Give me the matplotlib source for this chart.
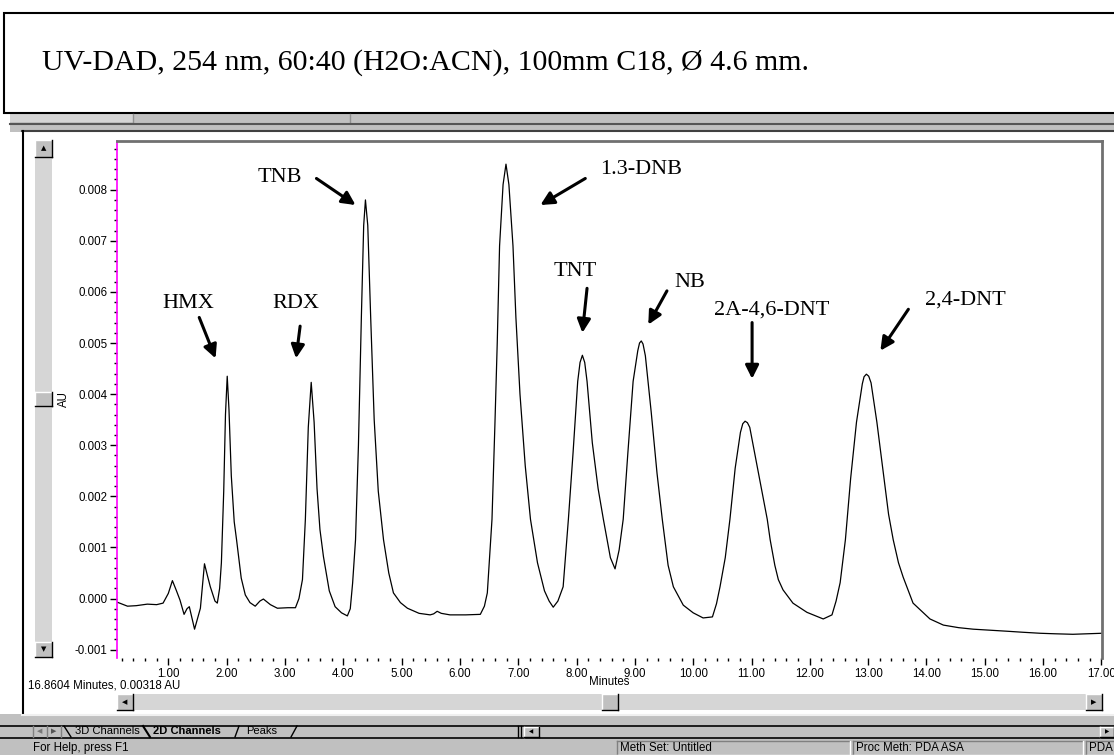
import numpy as np
import matplotlib
matplotlib.use("Agg")
from matplotlib import pyplot as plt
from matplotlib.patches import Rectangle
from matplotlib.lines import Line2D
from matplotlib.ticker import MultipleLocator, FormatStrFormatter

plt.close("all")

# ---------------- data (minutes, mAU) ----------------
time_min = [0.12, 0.30, 0.45, 0.64, 0.80, 0.91, 1.00, 1.07, 1.14, 1.20, 1.27, 1.32, 1.36, 1.45,
            1.55, 1.62, 1.67, 1.72, 1.80, 1.84, 1.88, 1.91, 1.95, 1.98, 2.01, 2.04, 2.08, 2.13,
            2.17, 2.25, 2.32, 2.40, 2.49, 2.57, 2.63, 2.75, 2.87, 3.05, 3.18, 3.24, 3.30, 3.35,
            3.40, 3.45, 3.50, 3.55, 3.60, 3.66, 3.76, 3.86, 3.97, 4.07, 4.12, 4.16, 4.21, 4.26,
            4.31, 4.35, 4.38, 4.42, 4.47, 4.53, 4.60, 4.69, 4.78, 4.86, 4.98, 5.10, 5.30, 5.49,
            5.55, 5.61, 5.68, 5.83, 6.10, 6.35, 6.42, 6.47, 6.55, 6.60, 6.64, 6.68, 6.74, 6.79,
            6.84, 6.91, 6.96, 7.03, 7.12, 7.21, 7.33, 7.45, 7.53, 7.60, 7.68, 7.77, 7.86, 7.94,
            8.02, 8.06, 8.10, 8.14, 8.18, 8.27, 8.37, 8.46, 8.58, 8.66, 8.73, 8.80, 8.88, 8.97,
            9.05, 9.08, 9.11, 9.14, 9.18, 9.28, 9.38, 9.47, 9.57, 9.66, 9.83, 10.00, 10.17, 10.33,
            10.40, 10.46, 10.55, 10.63, 10.72, 10.81, 10.85, 10.89, 10.93, 10.97, 11.07, 11.17,
            11.27, 11.32, 11.40, 11.46, 11.54, 11.71, 11.95, 12.23, 12.38, 12.45, 12.52, 12.61,
            12.70, 12.80, 12.90, 12.93, 12.97, 13.01, 13.05, 13.15, 13.25, 13.35, 13.43, 13.52,
            13.60, 13.77, 14.06, 14.29, 14.55, 14.80, 15.10, 15.38, 15.65, 15.95, 16.20, 16.51,
            16.75, 17.01]
signal_mau = [-0.07, -0.15, -0.14, -0.11, -0.12, -0.09, 0.10, 0.35, 0.15, -0.03, -0.31, -0.20, -0.16, -0.60,
              -0.19, 0.68, 0.45, 0.23, -0.05, -0.09, 0.20, 0.70, 2.10, 3.60, 4.35, 3.70, 2.40, 1.50,
              1.15, 0.40, 0.07, -0.08, -0.15, -0.05, -0.01, -0.12, -0.19, -0.18, -0.18, 0.00, 0.37, 1.55,
              3.35, 4.23, 3.45, 2.15, 1.35, 0.82, 0.15, -0.16, -0.28, -0.34, -0.20, 0.30, 1.15, 3.00,
              5.50, 7.30, 7.80, 7.30, 5.50, 3.50, 2.10, 1.15, 0.50, 0.11, -0.08, -0.19, -0.29, -0.32,
              -0.30, -0.25, -0.29, -0.32, -0.32, -0.31, -0.15, 0.11, 1.55, 3.40, 5.00, 6.90, 8.10, 8.50,
              8.10, 6.90, 5.50, 4.00, 2.60, 1.55, 0.70, 0.15, -0.05, -0.17, -0.05, 0.23, 1.55, 2.85,
              4.25, 4.62, 4.76, 4.62, 4.25, 3.05, 2.15, 1.55, 0.80, 0.58, 0.95, 1.55, 2.85, 4.25,
              4.85, 5.00, 5.04, 4.98, 4.75, 3.65, 2.45, 1.55, 0.65, 0.23, -0.13, -0.28, -0.38, -0.36,
              -0.10, 0.23, 0.80, 1.55, 2.55, 3.25, 3.42, 3.47, 3.44, 3.35, 2.75, 2.15,
              1.55, 1.15, 0.65, 0.37, 0.17, -0.09, -0.27, -0.40, -0.32, -0.05, 0.31, 1.15,
              2.35, 3.45, 4.20, 4.34, 4.39, 4.35, 4.22, 3.45, 2.55, 1.65, 1.15, 0.70,
              0.42, -0.09, -0.40, -0.52, -0.57, -0.60, -0.62, -0.64, -0.66, -0.68, -0.69, -0.70,
              -0.69, -0.68]

# peak labels: name, text position (min, mAU), arrow tail, arrow head
peak_names = ["HMX", "RDX", "TNB", "1.3-DNB", "TNT", "NB", "2A-4,6-DNT", "2,4-DNT"]
label_pos = [(1.34, 5.78), (3.18, 5.78), (2.92, 8.23), (9.10, 8.39),
             (7.98, 6.40), (9.95, 6.18), (11.35, 5.65), (14.66, 5.84)]
arrow_tail = [(1.53, 5.50), (3.26, 5.33), (3.54, 8.22), (8.15, 8.22),
              (8.18, 6.07), (9.55, 6.02), (11.01, 5.40), (13.69, 5.66)]
arrow_head = [(1.81, 4.70), (3.19, 4.70), (4.21, 7.70), (7.38, 7.70),
              (8.10, 5.20), (9.23, 5.36), (11.01, 4.30), (13.21, 4.85)]

title = "UV-DAD, 254 nm, 60:40 (H2O:ACN), 100mm C18, \u00d8 4.6 mm."

# ---------------- figure in screen pixels ----------------
W, H = 1114, 755
fig = plt.figure(figsize=(W / 100, H / 100), dpi=100)
fig.patch.set_facecolor("white")

UI = ["Liberation Sans", "DejaVu Sans"]
SERIF = ["Liberation Serif", "DejaVu Serif"]


def box(x0, y0, x1, y1, z=1, **kw):
    fig.add_artist(Rectangle((x0 / W, 1 - y1 / H), (x1 - x0) / W, (y1 - y0) / H,
                             transform=fig.transFigure, zorder=z, **kw))


def line(x0, y0, x1, y1, z=2, **kw):
    fig.add_artist(Line2D([x0 / W, x1 / W], [1 - y0 / H, 1 - y1 / H],
                          transform=fig.transFigure, zorder=z, **kw))


def txt(x, y, s, **kw):
    kw.setdefault("family", UI)
    kw.setdefault("fontsize", 8.3)
    kw.setdefault("va", "center")
    fig.text(x / W, 1 - y / H, s, **kw)


def button(x0, y0, x1, y1, glyph=None, gsize=5):
    box(x0, y0, x1, y1, z=3, facecolor="#c0c0c0", edgecolor="none")
    line(x0, y0, x1, y0, z=4, color="white", lw=1)
    line(x0, y0, x0, y1, z=4, color="white", lw=1)
    line(x0, y1, x1, y1, z=4, color="black", lw=1)
    line(x1, y0, x1, y1, z=4, color="black", lw=1)
    if glyph:
        txt((x0 + x1) / 2, (y0 + y1) / 2, glyph, ha="center", fontsize=gsize,
            family=["DejaVu Sans"], zorder=5)


def sunken(x0, y0, x1, y1):
    line(x0, y0, x1, y0, z=4, color="#808080", lw=1)
    line(x0, y0, x0, y1, z=4, color="#808080", lw=1)
    line(x0, y1, x1, y1, z=4, color="white", lw=1)
    line(x1, y0, x1, y1, z=4, color="white", lw=1)


# top caption box
box(4, 13, 1125, 113, z=2, facecolor="white", edgecolor="black", lw=1.5)
txt(425, 63, title, ha="center", family=SERIF, fontsize=21.5, zorder=3)

# toolbar strip under caption
box(10, 114, 1114, 132, z=1, facecolor="#c0c0c0", edgecolor="none")
box(10, 114, 133, 122, z=1, facecolor="#d4d4d4", edgecolor="none")
line(133, 114, 133, 122, color="#909090", lw=1)
line(350, 114, 350, 122, color="#909090", lw=1)
line(10, 123.5, 1114, 123.5, color="#555555", lw=1.5)
line(22, 131, 1114, 131, color="#404040", lw=1.5)

# main white window panel
box(22, 132, 1114, 714, z=1, facecolor="white", edgecolor="none")
line(23, 131, 23, 714, color="black", lw=1.5)

# vertical scroll bar
box(35, 140, 52, 657, z=2, facecolor="#d6d6d6", edgecolor="none")
button(35, 140, 52, 157, "\u25b2")
button(35, 642, 52, 657, "\u25bc")
button(35, 392, 52, 406)

# horizontal scroll bar
box(117, 694, 1102, 710, z=2, facecolor="#d6d6d6", edgecolor="none")
button(117, 694, 133, 710, "\u25c0")
button(1086, 694, 1102, 710, "\u25b6")
button(602, 694, 618, 710)

txt(28, 686, "16.8604 Minutes, 0.00318 AU", ha="left", zorder=3)

# window bottom, tab strip and status bar
box(0, 714, 1114, 755, z=1, facecolor="#c0c0c0", edgecolor="none")
line(22, 715, 1114, 715, color="#f0f0f0", lw=1.5)
line(0, 725.5, 1114, 725.5, color="black", lw=1.2)
line(0, 737.5, 1114, 737.5, color="black", lw=1.2)
line(33, 726, 33, 737, color="#808080", lw=1)
txt(40, 731.5, "\u25c0", ha="center", fontsize=5, family=["DejaVu Sans"], color="#777777", zorder=3)
line(47, 726, 47, 737, color="#808080", lw=1)
txt(54, 731.5, "\u25b6", ha="center", fontsize=5, family=["DejaVu Sans"], color="#555555", zorder=3)
line(61, 726, 61, 737, color="#808080", lw=1)
# tab outlines
line(64, 726, 71, 737, color="black", lw=1)
line(143, 726, 150, 737, color="black", lw=1.5)
line(239, 726, 235, 737, color="black", lw=1)
line(297, 726, 291, 737, color="black", lw=1)
txt(75, 731.5, "3D Channels", ha="left", fontsize=8, zorder=3)
txt(153, 731.5, "2D Channels", ha="left", fontsize=8, weight="bold", zorder=3)
txt(246, 731.5, "Peaks", ha="left", fontsize=8, zorder=3)
line(518, 726, 518, 737, color="black", lw=1)
line(521, 726, 521, 737, color="black", lw=1)
button(524, 727, 539, 737, "\u25c0", gsize=4)
button(1100, 727, 1114, 737, "\u25b6", gsize=4)
txt(33, 748, "For Help, press F1", ha="left", zorder=3)
sunken(617, 741, 850, 755)
txt(620, 748, "Meth Set: Untitled", ha="left", zorder=5)
sunken(853, 741, 1083, 755)
txt(856, 748, "Proc Meth: PDA ASA", ha="left", zorder=5)
sunken(1086, 741, 1120, 755)
txt(1089, 748, "PDA", ha="left", zorder=5)

# ---------------- chromatogram axes ----------------
ax = fig.add_axes([117 / W, 1 - 658 / H, (1102 - 117) / W, (658 - 141) / H])
ax.set_zorder(6)
ax.set_facecolor("white")

au = np.array(signal_mau) / 1000.0
ax.plot(time_min, au, color="black", lw=0.9)

ax.set_xlim(0.12, 17.01)
ax.set_ylim(-0.001164, 0.008953)

ax.xaxis.set_major_locator(MultipleLocator(1.0))
ax.xaxis.set_minor_locator(MultipleLocator(0.2))
ax.xaxis.set_major_formatter(FormatStrFormatter("%.2f"))
ax.yaxis.set_major_locator(MultipleLocator(0.001))
ax.yaxis.set_minor_locator(MultipleLocator(0.0002))
ax.yaxis.set_major_formatter(FormatStrFormatter("%.3f"))
ax.tick_params(which="major", length=5, width=1, direction="out", labelsize=8.3, pad=2)
ax.tick_params(which="minor", length=2.5, width=1, direction="out")
for lab in ax.get_xticklabels() + ax.get_yticklabels():
    lab.set_family(UI)

ax.spines["left"].set_color("#ff00ff")
ax.spines["left"].set_linewidth(1.2)
ax.spines["top"].set_color("#707070")
ax.spines["top"].set_linewidth(2)
ax.spines["right"].set_color("#707070")
ax.spines["right"].set_linewidth(2)
ax.spines["bottom"].set_visible(False)

ax.set_ylabel("AU", fontsize=8.3, family=UI)
ax.yaxis.set_label_coords(-0.048, 0.5)
ax.set_xlabel("Minutes", fontsize=8.3, family=UI)
ax.xaxis.set_label_coords(0.5, -0.035)

for name, tp, tail, head in zip(peak_names, label_pos, arrow_tail, arrow_head):
    ax.text(tp[0], tp[1] / 1000.0, name, family=SERIF, fontsize=16,
            ha="center", va="center")
    ax.annotate("", xy=(head[0], head[1] / 1000.0), xytext=(tail[0], tail[1] / 1000.0),
                arrowprops=dict(arrowstyle="-|>", lw=2.2, color="black",
                                mutation_scale=20, shrinkA=0, shrinkB=0))

fig.savefig("out.png", dpi=100)
